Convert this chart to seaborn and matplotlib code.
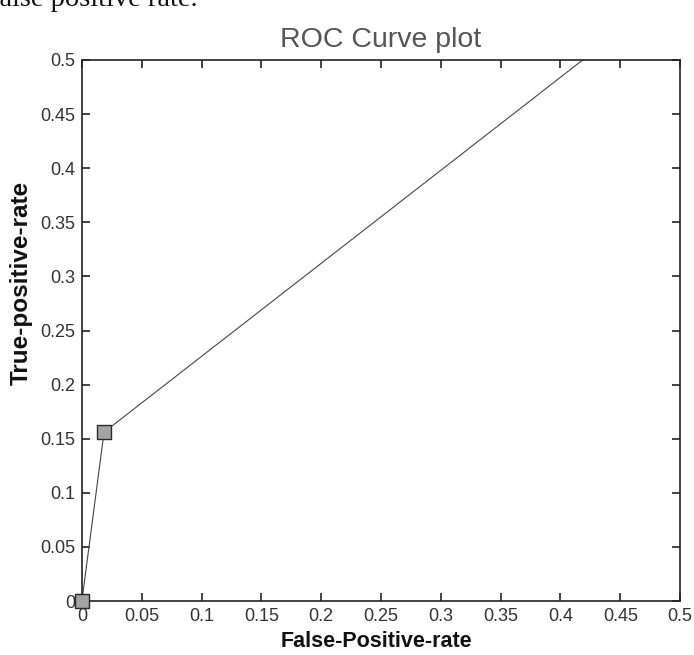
import numpy as np
import pandas as pd
import seaborn as sns
import matplotlib.pyplot as plt

# ROC points (false positive rate, true positive rate)
fpr = [0.0, 0.0185, 1.0]
tpr = [0.0, 0.156, 1.0]
ticks = [0, 0.05, 0.1, 0.15, 0.2, 0.25, 0.3, 0.35, 0.4, 0.45, 0.5]
tick_labels = ["0", "0.05", "0.1", "0.15", "0.2", "0.25", "0.3", "0.35", "0.4", "0.45", "0.5"]

sns.set_style("white")
plt.rcParams['font.family'] = ['Liberation Sans', 'DejaVu Sans']

df = pd.DataFrame({"fpr": fpr, "tpr": tpr})

fig = plt.figure(figsize=(6.94, 6.55), dpi=100)
ax = fig.add_axes([0.118, 0.0824, 0.862, 0.826])

sns.lineplot(data=df, x="fpr", y="tpr", ax=ax, color="#444444", linewidth=0.8,
             sort=False)
# markers only at the measured points
sns.scatterplot(data=df.iloc[:2], x="fpr", y="tpr", ax=ax, marker="s", s=105,
                color="#a3a3a3", edgecolor="#2a2a2a", linewidth=1.0, zorder=5,
                clip_on=False)

ax.set_xlim(0, 0.5)
ax.set_ylim(0, 0.5)
ax.set_xticks(ticks)
ax.set_xticklabels(tick_labels)
ax.set_yticks(ticks)
ax.set_yticklabels(tick_labels)
ax.tick_params(direction="in", length=6, width=1.2, color="#222222",
               labelsize=13, labelcolor="#333333", top=True, right=True,
               bottom=True, left=True, pad=5)
for sp in ax.spines.values():
    sp.set_color("#222222")
    sp.set_linewidth(1.2)

ax.set_title("ROC Curve plot", fontsize=20.5, color="#555555", pad=9)
ax.set_xlabel("False-Positive-rate", fontsize=15.5, fontweight="bold", color="#111111")
ax.set_ylabel("True-positive-rate", fontsize=17.5, fontweight="bold", color="#111111")
ax.xaxis.set_label_coords(0.492, -0.056)
ax.yaxis.set_label_coords(-0.082, 0.588)

# clipped line of the surrounding document text
fig.text(-0.014, 1.02, "false positive rate.", fontsize=20.5, family="Liberation Serif",
         color="#111111", va="top", ha="left")

plt.savefig("out.png", dpi=100)
plt.close()
